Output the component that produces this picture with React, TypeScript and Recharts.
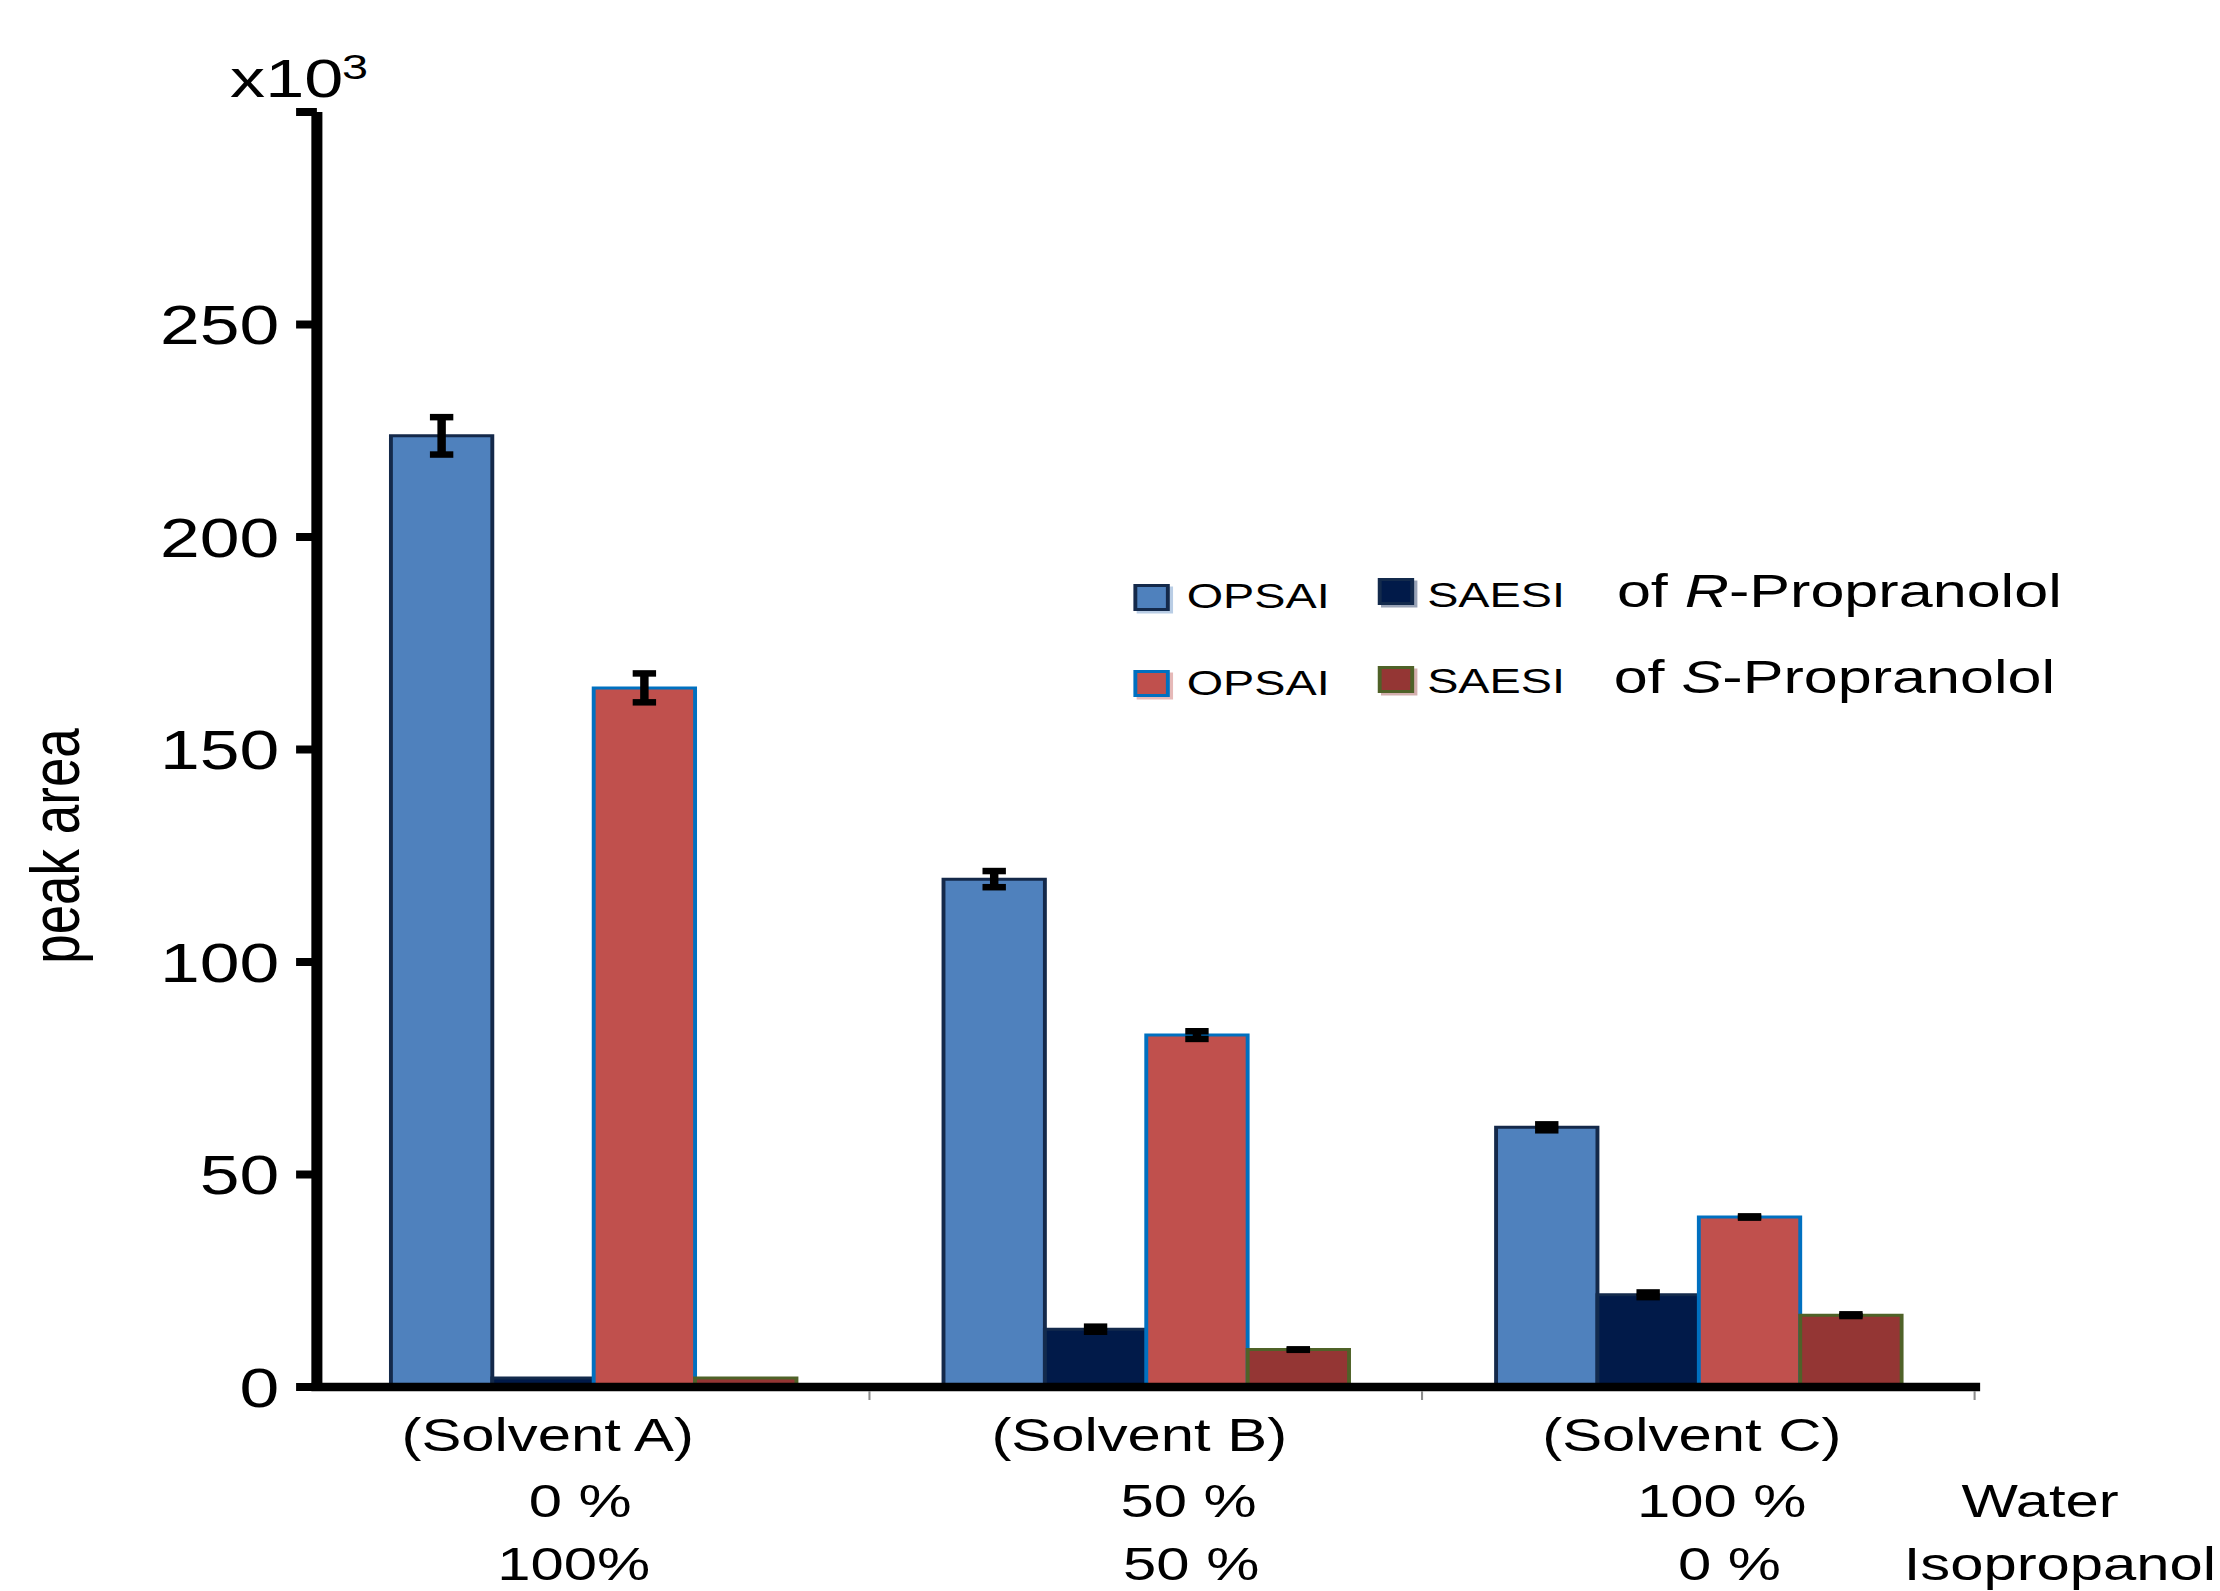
import React from 'react';
import { BarChart, Bar, XAxis, YAxis, ErrorBar, Legend } from 'recharts';

// ---------- data ----------
const categories = ['(Solvent A)', '(Solvent B)', '(Solvent C)'];
const waterShare = ['0 %', '50 %', '100 %'];
const isopropanolShare = ['100%', '50 %', '0 %'];
const rowNames = ['Water', 'Isopropanol'];

const opsaiR = [223.8, 119.5, 61.1];
const opsaiRErr = [4.4, 1.9, 0.7];
const saesiR = [2.1, 13.6, 21.7];
const saesiRErr = [0, 0.6, 0.55];
const opsaiS = [164.5, 82.8, 40.0];
const opsaiSErr = [3.4, 0.9, 0.15];
const saesiS = [2.1, 8.8, 16.9];
const saesiSErr = [0, 0.05, 0.2];

const yTicks = [0, 50, 100, 150, 200, 250, 300];
const enantiomers = ['R', 'S'];

const data = categories.map((c, i) => ({
  category: c,
  water: waterShare[i],
  iso: isopropanolShare[i],
  opsaiR: opsaiR[i],
  opsaiRErr: opsaiRErr[i],
  saesiR: saesiR[i],
  saesiRErr: saesiRErr[i],
  opsaiS: opsaiS[i],
  opsaiSErr: opsaiSErr[i],
  saesiS: saesiS[i],
  saesiSErr: saesiSErr[i],
}));

// ---------- styles / layout ----------
const FONT = '"Liberation Sans", Arial, Helvetica, sans-serif';
const W = 1708;
const H = 1591;
const SX = 2220 / W;

const SERIES = [
  { key: 'opsaiR', err: 'opsaiRErr', name: 'OPSAI', fill: '#4F81BD', stroke: '#14294A' },
  { key: 'saesiR', err: 'saesiRErr', name: 'SAESI', fill: '#011A49', stroke: '#132A4C' },
  { key: 'opsaiS', err: 'opsaiSErr', name: 'OPSAI', fill: '#C0504D', stroke: '#0070C0' },
  { key: 'saesiS', err: 'saesiSErr', name: 'SAESI', fill: '#943634', stroke: '#4F6228' },
];

const LINE1_DX = [-35, -5, -5];
const LINE2_DX = [-10, 33, 18];
const LINE3_DX = [-15, 35, 24];

const XTick = (props: any) => {
  const { x, y, payload } = props;
  const i = props.index ?? payload.index ?? 0;
  const common = { fontSize: 46, fontFamily: FONT, fill: '#000' };
  const last = i === categories.length - 1;
  const half =
    typeof payload.offset === 'number' && payload.offset > 0
      ? payload.offset
      : (props.width ?? 1275) / (props.visibleTicksCount ?? categories.length) / 2;
  const bx = x + half;
  return (
    <g>
      <line x1={bx} y1={y + 4} x2={bx} y2={y + 13} stroke="#8c8c8c" strokeWidth={1.6} />
      <text x={x + LINE1_DX[i]} y={y + 64} textAnchor="middle" {...common}>
        {payload.value}
      </text>
      <text x={x + LINE2_DX[i]} y={y + 130} textAnchor="middle" {...common}>
        {data[i].water}
      </text>
      <text x={x + LINE3_DX[i]} y={y + 193} textAnchor="middle" {...common}>
        {data[i].iso}
      </text>
      {last && (
        <>
          <text x={x + 202.5} y={y + 130} textAnchor="start" {...common}>
            {rowNames[0]}
          </text>
          <text x={x + 158} y={y + 193} textAnchor="start" {...common}>
            {rowNames[1]}
          </text>
        </>
      )}
    </g>
  );
};

const renderAxisTitles = () => (
  <g>
    <text x={177} y={97} fontSize={54} fontFamily={FONT} fill="#000">
      x10
      <tspan fontSize={36} dx={-1} dy={-18}>
        3
      </tspan>
    </text>
    <text
      x={60.8}
      y={846}
      transform="rotate(-90 60.8 846)"
      textAnchor="middle"
      fontSize={53}
      fontFamily={FONT}
      fill="#000"
    >
      peak area
    </text>
  </g>
);

const LEG_POS = [
  { sx: 0, sy: 24, tx: 41, ty: 48 },
  { sx: 188, sy: 18, tx: 226, ty: 47 },
  { sx: 0, sy: 110, tx: 41, ty: 135 },
  { sx: 188, sy: 106, tx: 226, ty: 133 },
];
const SUFFIX_POS = [
  { x: 372, y: 47 },
  { x: 369.5, y: 133 },
];

const renderLegend = (props: any) => {
  const payload: any[] = props.payload ?? [];
  return (
    <svg width={680} height={160} style={{ overflow: 'visible', display: 'block' }}>
      {payload.map((entry: any, k: number) => {
        const idx = SERIES.findIndex((s) => s.key === entry.dataKey);
        const j = idx >= 0 ? idx : k;
        const s = SERIES[j];
        const p = LEG_POS[j];
        return (
          <g key={`leg-${j}`}>
            <rect x={p.sx + 2.5} y={p.sy + 2.5} width={28} height={27} fill={s.fill} opacity={0.4} />
            <rect
              x={p.sx + 1.5}
              y={p.sy + 1.5}
              width={25}
              height={24}
              fill={s.fill}
              stroke={s.stroke}
              strokeWidth={3}
            />
            <text x={p.tx} y={p.ty} fontSize={36} fontFamily={FONT} fill="#000">
              {entry.value}
            </text>
          </g>
        );
      })}
      {enantiomers.map((e, r) => (
        <text
          key={`suf-${e}`}
          x={SUFFIX_POS[r].x}
          y={SUFFIX_POS[r].y}
          fontSize={47}
          fontFamily={FONT}
          fill="#000"
        >
          {'of '}
          <tspan fontStyle="italic">{e}</tspan>
          {'-Propranolol'}
        </text>
      ))}
    </svg>
  );
};

export default function App() {
  return (
    <div
      style={{
        position: 'absolute',
        left: 0,
        top: 0,
        width: W,
        height: H,
        background: '#fff',
        transform: `scaleX(${SX})`,
        transformOrigin: '0 0',
        fontFamily: FONT,
      }}
    >
      <BarChart
        width={W}
        height={H}
        data={data}
        margin={{ top: 112, right: 188.8, bottom: 203, left: 0 }}
        barCategoryGap="13.4%"
        barGap={0}
      >
        {SERIES.map((s) => (
          <Bar
            key={s.key}
            dataKey={s.key}
            name={s.name}
            fill={s.fill}
            stroke={s.stroke}
            strokeWidth={3}
            isAnimationActive={false}
          >
            <ErrorBar
              dataKey={s.err}
              width={9}
              stroke="#000"
              strokeWidth={6.5}
              isAnimationActive={false}
            />
          </Bar>
        ))}
        <Legend
          layout="vertical"
          align="center"
          verticalAlign="middle"
          content={renderLegend}
          wrapperStyle={{ left: 872, top: 560, width: 680, height: 160 }}
        />
        <XAxis
          dataKey="category"
          height={1}
          interval={0}
          tickLine={false}
          tickSize={0}
          tickMargin={0}
          axisLine={{ stroke: '#000', strokeWidth: 8.5, strokeLinecap: 'square' }}
          tick={(p: any) => <XTick {...p} />}
        />
        <YAxis
          domain={[0, 300]}
          ticks={yTicks}
          interval={0}
          width={243.8}
          axisLine={{ stroke: '#000', strokeWidth: 8.5 }}
          tickLine={{ stroke: '#000', strokeWidth: 8 }}
          tickSize={16}
          tickMargin={13}
          tickFormatter={(v: number) => (v === 300 ? '' : String(v))}
          tick={{ fontSize: 55, fill: '#000', fontFamily: FONT }}
          label={renderAxisTitles}
        />
      </BarChart>
    </div>
  );
}
